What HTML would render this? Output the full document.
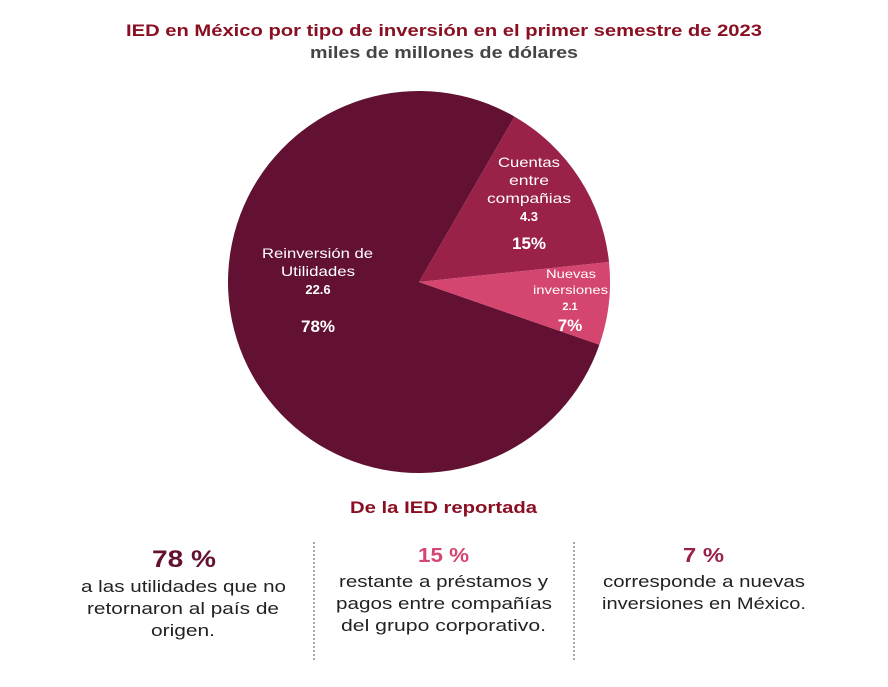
<!DOCTYPE html>
<html><head><meta charset="utf-8"><style>
body{margin:0;width:888px;height:682px;background:#fff;font-family:"Liberation Sans",sans-serif;overflow:hidden}
</style></head><body>
<svg width="888" height="682" xmlns="http://www.w3.org/2000/svg" font-family="Liberation Sans, sans-serif">
<g lengthAdjust="spacingAndGlyphs">
<text x="126" y="36" textLength="636" lengthAdjust="spacingAndGlyphs" font-size="17" font-weight="bold" fill="#8a0f22">IED en México por tipo de inversión en el primer semestre de 2023</text>
<text x="310" y="58" textLength="268" lengthAdjust="spacingAndGlyphs" font-size="17" font-weight="bold" fill="#444">miles de millones de dólares</text>
</g>
<path d="M419,282 L514.5,116.6 A191,191 0 1,0 599.4,344.8 Z" fill="#621132"/>
<path d="M419,282 L514.5,116.6 A191,191 0 0,1 609,262 Z" fill="#9a2248"/>
<path d="M419,282 L609,262 A191,191 0 0,1 599.4,344.8 Z" fill="#d4466f"/>
<g fill="#fff">
<text x="262" y="258" textLength="111" lengthAdjust="spacingAndGlyphs" font-size="14">Reinversión de</text>
<text x="281" y="276" textLength="74" lengthAdjust="spacingAndGlyphs" font-size="14">Utilidades</text>
<text x="318" y="294" text-anchor="middle" font-size="13" font-weight="bold">22.6</text>
<text x="318" y="332" text-anchor="middle" font-size="17" font-weight="bold">78%</text>
<text x="498" y="167" textLength="62" lengthAdjust="spacingAndGlyphs" font-size="14">Cuentas</text>
<text x="509" y="185" textLength="40" lengthAdjust="spacingAndGlyphs" font-size="14">entre</text>
<text x="487" y="203" textLength="84" lengthAdjust="spacingAndGlyphs" font-size="14">compañias</text>
<text x="529" y="221" text-anchor="middle" font-size="13" font-weight="bold">4.3</text>
<text x="529" y="249" text-anchor="middle" font-size="17" font-weight="bold">15%</text>
<text x="546" y="278" textLength="50" lengthAdjust="spacingAndGlyphs" font-size="12">Nuevas</text>
<text x="533" y="294" textLength="75" lengthAdjust="spacingAndGlyphs" font-size="12">inversiones</text>
<text x="570" y="310" text-anchor="middle" font-size="11" font-weight="bold">2.1</text>
<text x="570" y="331" text-anchor="middle" font-size="17" font-weight="bold">7%</text>
</g>
<text x="350" y="513" textLength="187" lengthAdjust="spacingAndGlyphs" font-size="17" font-weight="bold" fill="#8a0f22">De la IED reportada</text>
<line x1="314" y1="542" x2="314" y2="660" stroke="#555" stroke-dasharray="2,2"/>
<line x1="574" y1="542" x2="574" y2="660" stroke="#555" stroke-dasharray="2,2"/>
<g font-size="17" fill="#222">
<text x="152" y="567" textLength="64" lengthAdjust="spacingAndGlyphs" font-size="24" font-weight="bold" fill="#621132">78 %</text>
<text x="81" y="592" textLength="205" lengthAdjust="spacingAndGlyphs">a las utilidades que no</text>
<text x="87" y="614" textLength="192" lengthAdjust="spacingAndGlyphs">retornaron al país de</text>
<text x="151" y="636" textLength="64" lengthAdjust="spacingAndGlyphs">origen.</text>
<text x="418" y="562" textLength="51" lengthAdjust="spacingAndGlyphs" font-size="20" font-weight="bold" fill="#d4466f">15 %</text>
<text x="339" y="587" textLength="209" lengthAdjust="spacingAndGlyphs">restante a préstamos y</text>
<text x="336" y="609" textLength="216" lengthAdjust="spacingAndGlyphs">pagos entre compañías</text>
<text x="341" y="631" textLength="205" lengthAdjust="spacingAndGlyphs">del grupo corporativo.</text>
<text x="683" y="562" textLength="41" lengthAdjust="spacingAndGlyphs" font-size="20" font-weight="bold" fill="#9a2248">7 %</text>
<text x="603" y="587" textLength="202" lengthAdjust="spacingAndGlyphs">corresponde a nuevas</text>
<text x="602" y="609" textLength="204" lengthAdjust="spacingAndGlyphs">inversiones en México.</text>
</g>
</svg>
</body></html>
